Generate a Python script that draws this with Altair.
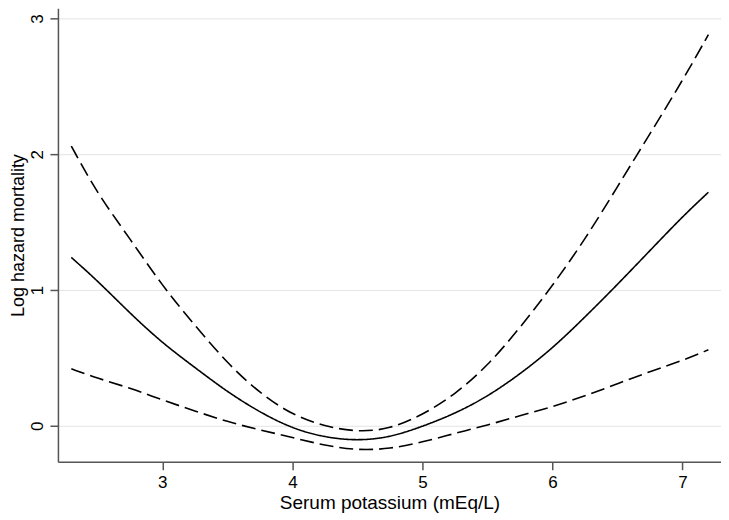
import altair as alt
import pandas as pd

potassium = [2.3, 2.5, 2.75, 3.0, 3.25, 3.5, 3.75, 4.0, 4.25, 4.5, 4.75, 5.0, 5.25, 5.5, 5.75, 6.0, 6.25, 6.5, 6.75, 7.0, 7.2]
estimate = [1.24, 1.07, 0.83, 0.61, 0.43, 0.25, 0.10, -0.02, -0.085, -0.11, -0.085, -0.005, 0.09, 0.215, 0.38, 0.57, 0.80, 1.04, 1.29, 1.54, 1.72]
upper = [2.06, 1.71, 1.38, 1.03, 0.74, 0.46, 0.24, 0.08, -0.005, -0.045, -0.025, 0.08, 0.23, 0.44, 0.72, 1.03, 1.37, 1.76, 2.15, 2.54, 2.88]
lower = [0.42, 0.35, 0.28, 0.19, 0.11, 0.03, -0.03, -0.085, -0.145, -0.18, -0.17, -0.12, -0.055, 0.005, 0.075, 0.14, 0.22, 0.31, 0.40, 0.48, 0.56]

rows = []
for name, vals in [("estimate", estimate), ("upper", upper), ("lower", lower)]:
    for x, y in zip(potassium, vals):
        rows.append({"k": x, "v": y, "series": name})
df = pd.DataFrame(rows)

chart = alt.Chart(df).mark_line(color="black", strokeWidth=1.6, interpolate="basis").encode(
    x=alt.X("k:Q", scale=alt.Scale(domain=[2.197, 7.297], nice=False, zero=False),
            axis=alt.Axis(values=[3, 4, 5, 6, 7], title="Serum potassium (mEq/L)", grid=False,
                          tickSize=8, labelPadding=5, titlePadding=3, labelFontSize=17, titleFontSize=19)),
    y=alt.Y("v:Q", scale=alt.Scale(domain=[-0.264, 3.074], nice=False, zero=False),
            axis=alt.Axis(values=[0, 1, 2, 3], title="Log hazard mortality", grid=True,
                          tickSize=8, labelAngle=-90, labelAlign="center", labelBaseline="bottom",
                          labelPadding=3, titlePadding=1, labelFontSize=17, titleFontSize=18)),
    strokeDash=alt.StrokeDash("series:N",
                              scale=alt.Scale(domain=["estimate", "upper", "lower"],
                                              range=[[1, 0], [14, 6], [14, 6]]),
                              legend=None),
    detail="series:N",
).properties(
    width=664, height=454,
    autosize=alt.AutoSizeParams(type="none"),
    padding={"left": 50, "top": 0, "right": 0, "bottom": 58},
    background="white",
).configure_view(stroke=None).configure_axis(
    labelFont="Liberation Sans", titleFont="Liberation Sans",
    labelColor="black", titleColor="black", titleFontWeight="normal",
    domainColor="#555555", tickColor="#555555", domainWidth=1.5, tickWidth=1.5,
    gridColor="#e4e4e4", gridWidth=1,
)

chart.save("out.html", embed_options={"renderer": "svg", "actions": False})
